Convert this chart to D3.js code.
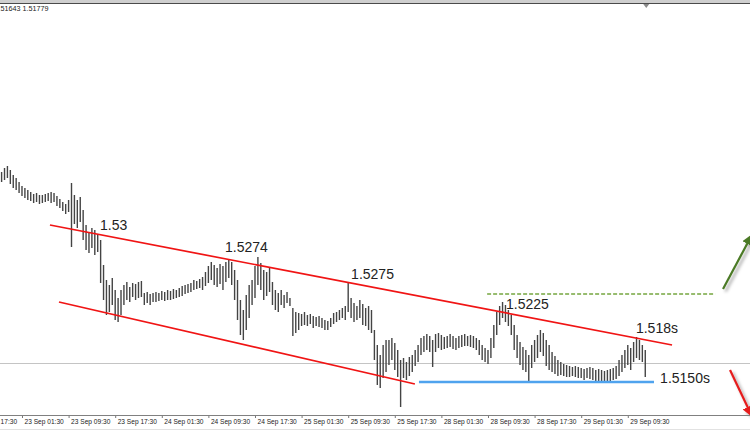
<!DOCTYPE html>
<html><head><meta charset="utf-8">
<script src="https://cdn.jsdelivr.net/npm/d3@7"></script>
<style>body{margin:0;background:#fff}svg{display:block}</style>
</head><body>
<script>
// ---- data (M30 bars, 22 Sep 22:00 .. 29 Sep 12:30) ----
const highs = [
1.5359,1.5363,1.5365,1.5361,1.5356,1.5353,1.5349,1.5345,1.5343,1.5341,
1.5339,1.5337,1.5338,1.5336,1.5336,1.5337,1.5338,1.5339,1.5338,1.5335,
1.5332,1.5329,1.5327,1.5331,1.5348,1.5336,1.5331,1.5334,1.5321,1.5306,
1.5299,1.5303,1.5301,1.5297,1.5291,1.5266,1.5251,1.5246,1.5253,1.5241,
1.5233,1.5241,1.5246,1.5249,1.5244,1.5248,1.5247,1.5249,1.5250,1.5238,
1.5239,1.5237,1.5238,1.5239,1.5238,1.5240,1.5239,1.5241,1.5240,1.5242,
1.5241,1.5243,1.5245,1.5246,1.5247,1.5248,1.5251,1.5250,1.5252,1.5254,
1.5259,1.5265,1.5269,1.5266,1.5263,1.5267,1.5265,1.5269,1.5271,1.5269,
1.5261,1.5251,1.5231,1.5221,1.5236,1.5246,1.5251,1.5265,1.5274,1.5268,
1.5261,1.5259,1.5263,1.5249,1.5241,1.5238,1.5241,1.5236,1.5239,1.5233,
1.5223,1.5219,1.5218,1.5217,1.5219,1.5216,1.5217,1.5215,1.5214,1.5215,
1.5213,1.5211,1.5210,1.5213,1.5218,1.5219,1.5221,1.5223,1.5225,1.5248,
1.5233,1.5228,1.5225,1.5231,1.5227,1.5223,1.5225,1.5221,1.5201,1.5186,
1.5176,1.5186,1.5191,1.5191,1.5193,1.5188,1.5181,1.5171,1.5173,1.5169,
1.5174,1.5176,1.5181,1.5186,1.5193,1.5195,1.5197,1.5195,1.5191,1.5197,
1.5198,1.5196,1.5194,1.5195,1.5197,1.5195,1.5193,1.5195,1.5196,1.5197,
1.5195,1.5196,1.5195,1.5193,1.5191,1.5186,1.5183,1.5181,1.5193,1.5206,
1.5219,1.5225,1.5229,1.5226,1.5221,1.5216,1.5206,1.5196,1.5189,1.5184,
1.5181,1.5176,1.5186,1.5191,1.5196,1.5201,1.5198,1.5191,1.5186,1.5179,
1.5175,1.5171,1.5169,1.5167,1.5166,1.5165,1.5164,1.5165,1.5164,1.5163,
1.5162,1.5163,1.5164,1.5163,1.5161,1.5162,1.5161,1.5160,1.5161,1.5162,
1.5163,1.5165,1.5171,1.5176,1.5181,1.5186,1.5183,1.5189,1.5194,1.5191,
1.5186,1.5181];
const lows = [
1.5349,1.5351,1.5353,1.5347,1.5343,1.5341,1.5338,1.5335,1.5333,1.5331,
1.5330,1.5328,1.5329,1.5327,1.5328,1.5329,1.5330,1.5328,1.5329,1.5325,
1.5323,1.5320,1.5317,1.5319,1.5284,1.5307,1.5303,1.5309,1.5291,1.5281,
1.5278,1.5283,1.5276,1.5279,1.5248,1.5231,1.5216,1.5219,1.5226,1.5211,
1.5209,1.5216,1.5226,1.5231,1.5229,1.5234,1.5231,1.5233,1.5234,1.5226,
1.5228,1.5226,1.5229,1.5229,1.5230,1.5231,1.5230,1.5231,1.5231,1.5232,
1.5233,1.5234,1.5235,1.5237,1.5238,1.5239,1.5241,1.5242,1.5243,1.5241,
1.5245,1.5248,1.5251,1.5246,1.5244,1.5247,1.5241,1.5249,1.5253,1.5246,
1.5231,1.5211,1.5196,1.5191,1.5201,1.5213,1.5226,1.5233,1.5246,1.5241,
1.5231,1.5235,1.5239,1.5226,1.5221,1.5219,1.5226,1.5223,1.5228,1.5225,
1.5195,1.5198,1.5201,1.5205,1.5206,1.5205,1.5207,1.5203,1.5205,1.5204,
1.5203,1.5201,1.5201,1.5204,1.5207,1.5209,1.5211,1.5213,1.5211,1.5219,
1.5213,1.5209,1.5211,1.5213,1.5206,1.5205,1.5201,1.5198,1.5171,1.5146,
1.5143,1.5153,1.5159,1.5166,1.5171,1.5161,1.5154,1.5124,1.5153,1.5151,
1.5155,1.5159,1.5165,1.5169,1.5176,1.5179,1.5181,1.5179,1.5164,1.5179,
1.5183,1.5181,1.5182,1.5183,1.5184,1.5182,1.5181,1.5183,1.5184,1.5185,
1.5185,1.5184,1.5183,1.5181,1.5176,1.5171,1.5169,1.5167,1.5173,1.5183,
1.5196,1.5206,1.5213,1.5209,1.5205,1.5196,1.5181,1.5173,1.5166,1.5161,
1.5159,1.5148,1.5163,1.5169,1.5173,1.5179,1.5175,1.5165,1.5161,1.5159,
1.5157,1.5155,1.5156,1.5155,1.5154,1.5154,1.5155,1.5154,1.5153,1.5153,
1.5151,1.5153,1.5152,1.5151,1.5149,1.5149,1.5148,1.5149,1.5148,1.5150,
1.5151,1.5152,1.5155,1.5159,1.5163,1.5166,1.5161,1.5169,1.5173,1.5171,
1.5169,1.5154];
const tickLabels = ["22 Sep 17:30","23 Sep 01:30","23 Sep 09:30","23 Sep 17:30","24 Sep 01:30",
  "24 Sep 09:30","24 Sep 17:30","25 Sep 01:30","25 Sep 09:30","25 Sep 17:30","28 Sep 01:30",
  "28 Sep 09:30","28 Sep 17:30","29 Sep 01:30","29 Sep 09:30"];
const tickBars = [-9,7,23,39,55,71,87,103,119,135,151,167,183,199,215];
const headerText = "1.51643 1.51779";
const currentPrice = 1.5168;
// trend lines: [bar1, price1, bar2, price2]
const channelTop = [16.6, 1.5306, 230.2, 1.5186];
const channelBottom = [19.7, 1.5229, 141.9, 1.5147];
const supportLine = [143.3, 1.5149, 224, 1.5149];
const targetLine = [166.7, 1.5237, 245, 1.5237];
const upArrow = [247.7, 1.5242, 257.6, 1.5296];
const downArrow = [250.1, 1.5161, 257.6, 1.5115];
const labels = [
  {t:"1.53", bar:33.8, p:1.5301},
  {t:"1.5274", bar:76.7, p:1.5279},
  {t:"1.5275", bar:120.0, p:1.5252},
  {t:"1.5225", bar:173.2, p:1.5222},
  {t:"1.518s", bar:217.8, p:1.5198},
  {t:"1.5150s", bar:226.1, p:1.5148}
];

// ---- drawing ----
const W = 750, H = 430;
const svg = d3.select("body").append("svg").attr("width", W).attr("height", H);
const x = d3.scaleLinear().domain([0, 221]).range([1.6, 1.6 + 221 * 2.9125]);
const y = d3.scaleLinear().domain([1.5116, 1.5521]).range([415, 10]);

const defs = svg.append("defs");
const f = defs.append("filter").attr("id","sh").attr("x","-50%").attr("y","-50%").attr("width","200%").attr("height","200%");
f.append("feDropShadow").attr("dx",2.5).attr("dy",2.5).attr("stdDeviation",1.5).attr("flood-color","#000").attr("flood-opacity",0.35);
function marker(id, color){
  defs.append("marker").attr("id",id).attr("viewBox","0 0 10 10").attr("refX",9).attr("refY",5)
    .attr("markerWidth",5).attr("markerHeight",5).attr("orient","auto").attr("markerUnits","strokeWidth")
    .append("path").attr("d","M0,0L10,5L0,10z").attr("fill",color);
}
marker("gh","#4b7a26"); marker("rh","#e51d1d");

// top frame
svg.append("rect").attr("x",0).attr("y",0).attr("width",W).attr("height",3).attr("fill","#cfcfcf");
svg.append("line").attr("x1",0).attr("x2",W).attr("y1",3.5).attr("y2",3.5).attr("stroke","#4a4a4a");
svg.append("path").attr("d",`M${x(221)-2},4L${x(221)+4},4L${x(221)+1},8z`).attr("fill","#8a8a8a");
svg.append("text").attr("x",-5.5).attr("y",11).attr("font-family","Liberation Sans, Arial").attr("font-size",7.2)
  .attr("fill","#222").text(headerText);

// current price line
svg.append("line").attr("x1",0).attr("x2",W).attr("y1",Math.round(y(currentPrice))+0.5).attr("y2",Math.round(y(currentPrice))+0.5)
  .attr("stroke","#c4c4c4");

// bars
svg.append("g").selectAll("line").data(highs).join("line")
  .attr("x1",(d,i)=>x(i)).attr("x2",(d,i)=>x(i))
  .attr("y1",d=>y(d)).attr("y2",(d,i)=>y(lows[i]))
  .attr("stroke","#444").attr("stroke-width",1.4);

// trend lines
function seg(a){ return [x(a[0]), y(a[1]), x(a[2]), y(a[3])]; }
function drawLine(a, color, w, dash){
  const s = seg(a);
  return svg.append("line").attr("x1",s[0]).attr("y1",s[1]).attr("x2",s[2]).attr("y2",s[3])
    .attr("stroke",color).attr("stroke-width",w).attr("stroke-dasharray",dash||null);
}
drawLine(channelTop,"#f01414",1.7);
drawLine(channelBottom,"#f01414",1.7);
drawLine(supportLine,"#4fa3ee",2.5);
drawLine(targetLine,"#76a640",1.5,"4,2");
drawLine(upArrow,"#4b7a26",2.2).attr("marker-end","url(#gh)").attr("filter","url(#sh)");
drawLine(downArrow,"#e51d1d",2.2).attr("marker-end","url(#rh)").attr("filter","url(#sh)");

// labels
svg.append("g").selectAll("text").data(labels).join("text")
  .attr("x",d=>x(d.bar)).attr("y",d=>y(d.p))
  .attr("font-family","Liberation Sans, Arial").attr("font-size",14).attr("fill","#222")
  .text(d=>d.t);

// x axis
const ax = svg.append("g").attr("transform","translate(0,415)")
  .call(d3.axisBottom(x).tickValues(tickBars).tickFormat((d,i)=>tickLabels[i]).tickSize(3).tickSizeOuter(0));
ax.select(".domain").remove();
ax.selectAll(".tick line").attr("stroke","#777");
ax.selectAll(".tick text").attr("text-anchor","start").attr("dx",2).attr("y",4.5)
  .attr("font-family","Liberation Sans, Arial").attr("font-size",6.6).attr("fill","#222");
svg.append("line").attr("x1",0).attr("x2",W).attr("y1",415.5).attr("y2",415.5).attr("stroke","#808080");
svg.append("line").attr("x1",0).attr("x2",W).attr("y1",429.5).attr("y2",429.5).attr("stroke","#e2e2e2");
</script>
</body></html>
